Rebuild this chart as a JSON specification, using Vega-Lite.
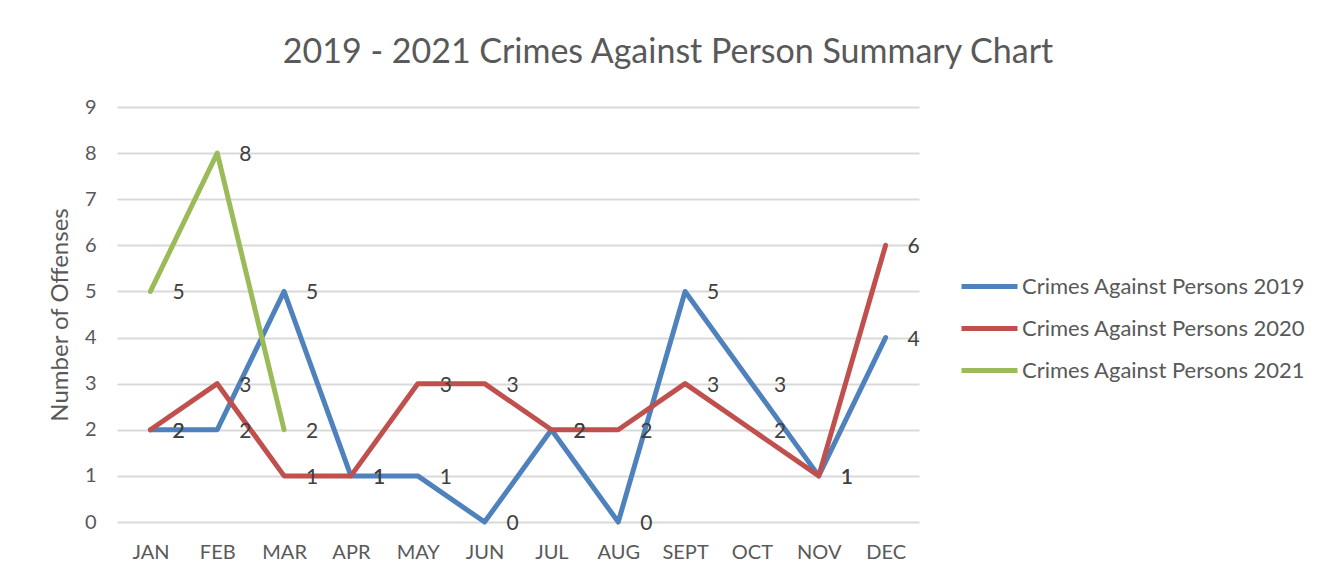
{
  "$schema": "https://vega.github.io/schema/vega-lite/v6.json",
  "autosize": {"type": "none"},
  "padding": {"left": 117, "top": 107, "right": 409, "bottom": 60},
  "width": 802,
  "height": 415,
  "background": "white",
  "title": {
    "text": "2019 - 2021 Crimes Against Person Summary Chart",
    "anchor": "middle",
    "dx": 150,
    "offset": 27,
    "fontSize": 34,
    "font": "Lato",
    "fontWeight": "normal",
    "color": "#595959"
  },
  "data": {
    "values": [
      {"month": "JAN", "series": "Crimes Against Persons 2019", "value": 2},
      {"month": "FEB", "series": "Crimes Against Persons 2019", "value": 2},
      {"month": "MAR", "series": "Crimes Against Persons 2019", "value": 5},
      {"month": "APR", "series": "Crimes Against Persons 2019", "value": 1},
      {"month": "MAY", "series": "Crimes Against Persons 2019", "value": 1},
      {"month": "JUN", "series": "Crimes Against Persons 2019", "value": 0},
      {"month": "JUL", "series": "Crimes Against Persons 2019", "value": 2},
      {"month": "AUG", "series": "Crimes Against Persons 2019", "value": 0},
      {"month": "SEPT", "series": "Crimes Against Persons 2019", "value": 5},
      {"month": "OCT", "series": "Crimes Against Persons 2019", "value": 3},
      {"month": "NOV", "series": "Crimes Against Persons 2019", "value": 1},
      {"month": "DEC", "series": "Crimes Against Persons 2019", "value": 4},
      {"month": "JAN", "series": "Crimes Against Persons 2020", "value": 2},
      {"month": "FEB", "series": "Crimes Against Persons 2020", "value": 3},
      {"month": "MAR", "series": "Crimes Against Persons 2020", "value": 1},
      {"month": "APR", "series": "Crimes Against Persons 2020", "value": 1},
      {"month": "MAY", "series": "Crimes Against Persons 2020", "value": 3},
      {"month": "JUN", "series": "Crimes Against Persons 2020", "value": 3},
      {"month": "JUL", "series": "Crimes Against Persons 2020", "value": 2},
      {"month": "AUG", "series": "Crimes Against Persons 2020", "value": 2},
      {"month": "SEPT", "series": "Crimes Against Persons 2020", "value": 3},
      {"month": "OCT", "series": "Crimes Against Persons 2020", "value": 2},
      {"month": "NOV", "series": "Crimes Against Persons 2020", "value": 1},
      {"month": "DEC", "series": "Crimes Against Persons 2020", "value": 6},
      {"month": "JAN", "series": "Crimes Against Persons 2021", "value": 5},
      {"month": "FEB", "series": "Crimes Against Persons 2021", "value": 8},
      {"month": "MAR", "series": "Crimes Against Persons 2021", "value": 2}
    ]
  },
  "encoding": {
    "x": {
      "field": "month",
      "type": "ordinal",
      "sort": ["JAN","FEB","MAR","APR","MAY","JUN","JUL","AUG","SEPT","OCT","NOV","DEC"],
      "scale": {"type": "point", "padding": 0.5},
      "axis": {
        "title": null,
        "labelAngle": 0,
        "ticks": false,
        "domain": false,
        "grid": false,
        "labelPadding": 20,
        "labelFontSize": 20,
        "labelFont": "Lato",
        "labelColor": "#595959"
      }
    },
    "y": {
      "field": "value",
      "type": "quantitative",
      "scale": {"domain": [0, 9], "nice": false},
      "axis": {
        "title": "Number of Offenses",
        "titleFontSize": 24,
        "titleFont": "Lato",
        "titleFontWeight": "normal",
        "titleColor": "#595959",
        "titlePadding": 12,
        "values": [0,1,2,3,4,5,6,7,8,9],
        "ticks": false,
        "domain": false,
        "labelPadding": 21,
        "labelFontSize": 20,
        "labelFont": "Lato",
        "labelColor": "#595959",
        "gridColor": "#D9D9D9",
        "gridWidth": 2
      }
    },
    "color": {
      "field": "series",
      "type": "nominal",
      "scale": {
        "domain": ["Crimes Against Persons 2019", "Crimes Against Persons 2020", "Crimes Against Persons 2021"],
        "range": ["#4F81BD", "#C0504D", "#9BBB59"]
      },
      "legend": {
        "title": null,
        "orient": "none",
        "legendX": 842,
        "legendY": 149,
        "symbolType": "stroke",
        "symbolSize": 3136,
        "symbolStrokeWidth": 5,
        "labelOffset": 2,
        "labelFontSize": 22,
        "labelFont": "Lato",
        "labelColor": "#595959",
        "rowPadding": -8,
        "labelLimit": 400
      }
    }
  },
  "layer": [
    {"mark": {"type": "line", "strokeWidth": 5, "strokeCap": "round", "strokeJoin": "round"}},
    {
      "mark": {"type": "text", "align": "left", "dx": 22, "dy": 2, "fontSize": 21, "font": "Lato", "color": "#404040"},
      "encoding": {"text": {"field": "value", "type": "quantitative"}, "color": {"value": "#404040"}}
    }
  ],
  "config": {"view": {"stroke": null}}
}
